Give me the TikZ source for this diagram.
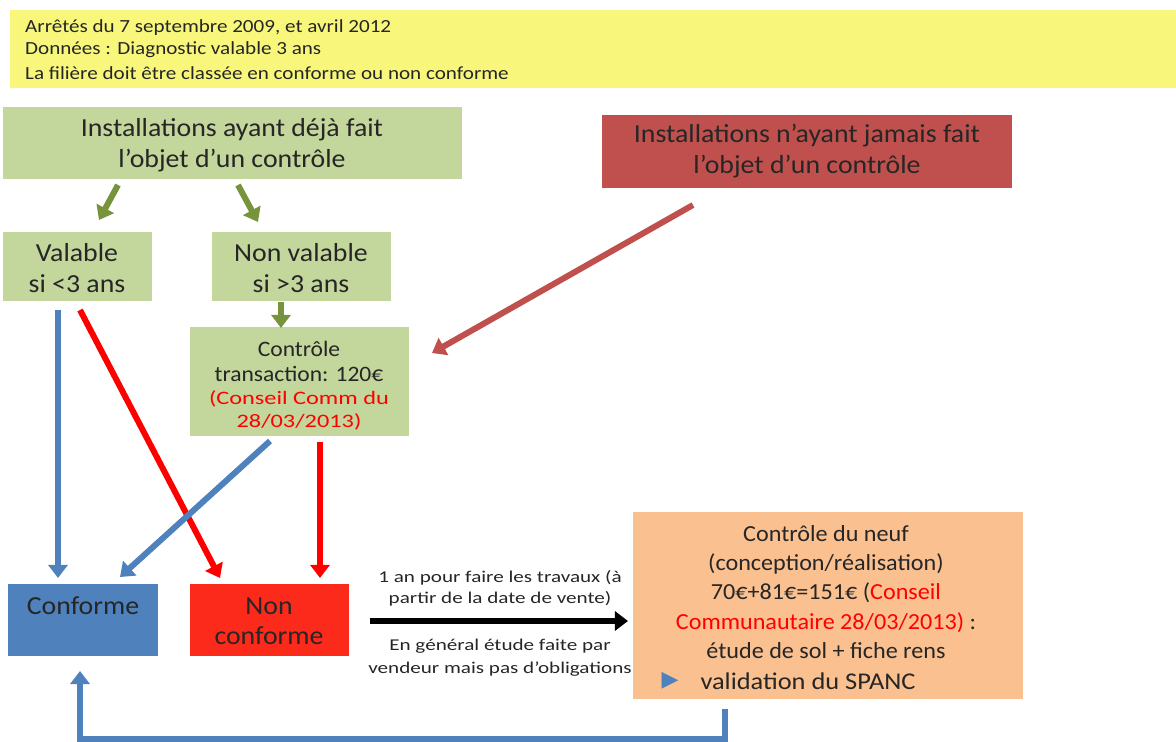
\documentclass[tikz,border=0pt]{standalone}
\usepackage{fontspec}
\setmainfont{Carlito}
\newfontfamily\symfont{DejaVu Sans}
\newfontfamily\bigf[FakeStretch=1.07]{Carlito}
\newfontfamily\orgf[FakeStretch=1.05]{Carlito}
\newfontfamily\spf[FakeStretch=1.1]{Carlito}
\newfontfamily\hdrf[FakeStretch=1.14]{Carlito}
\newfontfamily\redf[FakeStretch=1.28]{Carlito}
\newfontfamily\smlf[FakeStretch=1.28]{Carlito}
\usetikzlibrary{arrows.meta}
\definecolor{yel}{HTML}{F8F77C}
\definecolor{grn}{HTML}{C3D69B}
\definecolor{grnA}{HTML}{77933C}
\definecolor{brn}{HTML}{C0504D}
\definecolor{blu}{HTML}{4F81BD}
\definecolor{redA}{HTML}{FF0000}
\definecolor{redB}{HTML}{FC2A1A}
\definecolor{org}{HTML}{FAC090}
\tikzset{
  box/.style={inner sep=0pt, align=center, text=black!85},
  big/.style={font=\bigf\fontsize{26}{30.5}\selectfont},
  mid/.style={font=\bigf\fontsize{22}{25}\selectfont},
  hdr/.style={anchor=west, inner sep=0pt, font=\hdrf\fontsize{18.5}{22}\selectfont, text=black!85},
  arr/.style={line width=#1, -{Triangle[width=3.2*#1, length=2.2*#1]}},
}
\begin{document}
\begin{tikzpicture}[x=1pt,y=-1pt]
\useasboundingbox (0,0) rectangle (1176,742);
% boxes
\fill[yel] (10,10) rectangle (1176,88);
\node[hdr] (h1) at (25,28) {Arrêtés du 7 septembre 2009, et avril 2012};
\node[hdr] (h2) at (25,50) {Données : Diagnostic valable 3 ans};
\node[hdr] (h3) at (25,73) {La filière doit être classée en conforme ou non conforme};

\fill[grn] (3,107) rectangle (462,179);
\node[box,big] (inst) at (232,145) {Installations ayant déjà fait\\l’objet d’un contrôle};

\fill[brn] (602,115) rectangle (1012,188);
\node[box,big] (jam) at (807,151) {Installations n’ayant jamais fait\\l’objet d’un contrôle};

\fill[grn] (3,232) rectangle (152,301);
\node[box,big] (val) at (77,268) {Valable\\si <3 ans};

\fill[grn] (212,232) rectangle (391,301);
\node[box,big] (nval) at (301,268) {Non valable\\si >3 ans};

\fill[grn] (190,327) rectangle (409,436);
\node[box,mid] (ctrl) at (299,361) {Contrôle\\transaction: 120€};
\node[box,text=redA,font=\redf\fontsize{19}{23}\selectfont] (ctrlr) at (299,410) {(Conseil Comm du\\28/03/2013)};

\fill[blu] (8,584) rectangle (158,656);
\node[box,big] (conf) at (83,606) {Conforme};

\fill[redB] (190,584) rectangle (349,656);
\node[box,big] (nconf) at (269,621) {Non\\conforme};

\fill[org] (633,512) rectangle (1023,699);
\node[box,font=\orgf\fontsize{23}{29.2}\selectfont] (neuf) at (826,592) {Contrôle du neuf\\(conception/réalisation)\\70€+81€=151€ (\textcolor{redA}{Conseil}\\\textcolor{redA}{Communautaire 28/03/2013)} :\\étude de sol + fiche rens};
\node[box,font=\spf\fontsize{24}{29.2}\selectfont] (spanc) at (808,681) {validation du SPANC};
\node[text=blu, font=\symfont\fontsize{22}{22}\selectfont, inner sep=0pt] (tri) at (670,681) {▶};

% text around black arrow
\node[box, font=\smlf\fontsize{16.5}{21}\selectfont] (t1) at (500,588) {1 an pour faire les travaux (à\\partir de la date de vente)};
\node[box, font=\smlf\fontsize{16.5}{23}\selectfont] (t2) at (500,658) {En général étude faite par\\vendeur mais pas d’obligations};

% connectors
\coordinate (g1a) at (118,185); \coordinate (g1b) at (99,220);
\coordinate (g2a) at (238,185); \coordinate (g2b) at (258,222);
\coordinate (g3a) at (281,302); \coordinate (g3b) at (281,328);
\draw[grnA, arr=6pt] (g1a) -- (g1b);
\draw[grnA, arr=6pt] (g2a) -- (g2b);
\draw[grnA, arr=6pt] (g3a) -- (g3b);

\coordinate (b1a) at (693,205); \coordinate (b1b) at (432,353);
\draw[brn, arr=6pt] (b1a) -- (b1b);

\coordinate (c1a) at (58,310); \coordinate (c1b) at (58,578);
\coordinate (c2a) at (270,441); \coordinate (c2b) at (120,577);
\coordinate (r1a) at (80,310); \coordinate (r1b) at (220,578);
\coordinate (r2a) at (320,442); \coordinate (r2b) at (320,578);
\draw[blu, arr=6pt] (c1a) -- (c1b);
\draw[redA, arr=6pt] (r1a) -- (r1b);
\draw[blu, arr=6pt] (c2a) -- (c2b);
\draw[redA, arr=6pt] (r2a) -- (r2b);

\coordinate (ka) at (370,621); \coordinate (kb) at (628,621);
\draw[black, arr=6pt] (ka) -- (kb);

\coordinate (la) at (725,709); \coordinate (lb) at (725,739); \coordinate (lc) at (80,739); \coordinate (ld) at (80,671);
\draw[blu, line width=6pt, -{Triangle[width=19pt,length=13pt]}] (la) -- (lb) -- (lc) -- (ld);
\end{tikzpicture}
\end{document}
